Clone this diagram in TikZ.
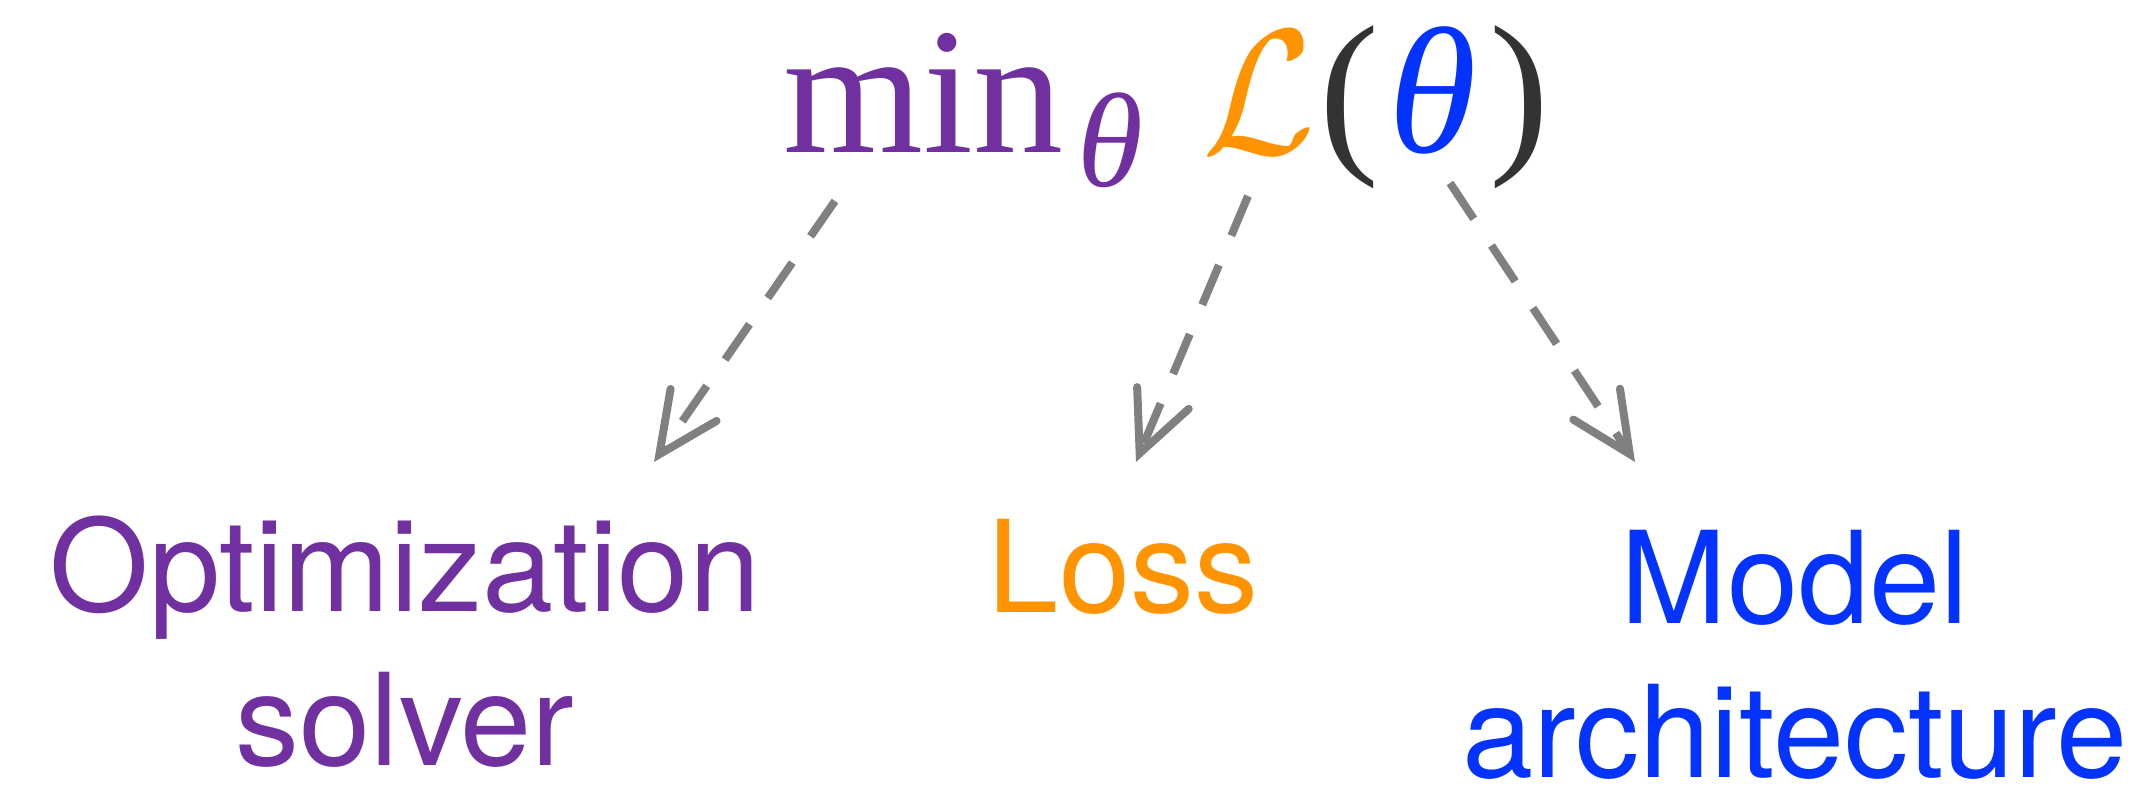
\documentclass[tikz,border=0pt]{standalone}
\usepackage{fontspec}
\usepackage{graphicx}
\usetikzlibrary{arrows.meta}
\newfontfamily\labfont{TeX Gyre Heros}
\newfontfamily\serfont{Liberation Serif}
\definecolor{cpurple}{HTML}{7030A0}
\definecolor{corange}{HTML}{FF9300}
\definecolor{cblue}{HTML}{0433FF}
\definecolor{cdark}{HTML}{333333}
\definecolor{cgray}{HTML}{808080}
\tikzset{
  lab/.style={inner sep=0pt, align=center, anchor=base, font=\labfont\fontsize{128}{154}\selectfont},
  piece/.style={inner sep=0pt, anchor=base west},
  dep/.style={draw=cgray, line width=8pt, dash pattern=on 43pt off 32pt,
    -{Straight Barb[length=60pt,width=56pt,line cap=round,line join=miter]}}
}
\begin{document}
\begin{tikzpicture}[x=1pt,y=-1pt]
\useasboundingbox (0,0) rectangle (2152,793);
% formula
\node[piece, text=cpurple, font=\serfont\fontsize{180}{180}\selectfont] (minT) at (783,152) {min};
\node[piece, text=cpurple, font=\serfont\itshape\fontsize{134}{134}\selectfont] (subT) at (1077,186) {θ};
\node[piece, text=corange] (lossT) at (1202,153) {\scalebox{16.4}[17.8]{$\mathcal{L}$}};
\node[piece, text=cdark, font=\serfont\fontsize{180}{180}\selectfont] (lpar) at (1319,150) {(};
\node[piece, text=cblue, font=\serfont\itshape\fontsize{180}{180}\selectfont] (thetaT) at (1388,152) {θ};
\node[piece, text=cdark, font=\serfont\fontsize{180}{180}\selectfont] (rpar) at (1489,150) {)};
% labels (base = baseline of the last line)
\node[lab, text=cpurple] (opt) at (405,765) {Optimization\\solver};
\node[lab, text=corange] (loss) at (1123,612) {Loss};
\node[lab, text=cblue] (model) at (1795,777) {Model\\architecture};
% connectors
\coordinate (s1) at (835,201);
\coordinate (t1) at (654,462);
\coordinate (s2) at (1248,196);
\coordinate (t2) at (1136,462);
\coordinate (s3) at (1450,183);
\coordinate (t3) at (1635,462);
\draw[dep] (s1) -- (t1);
\draw[dep] (s2) -- (t2);
\draw[dep] (s3) -- (t3);
\end{tikzpicture}
\end{document}
